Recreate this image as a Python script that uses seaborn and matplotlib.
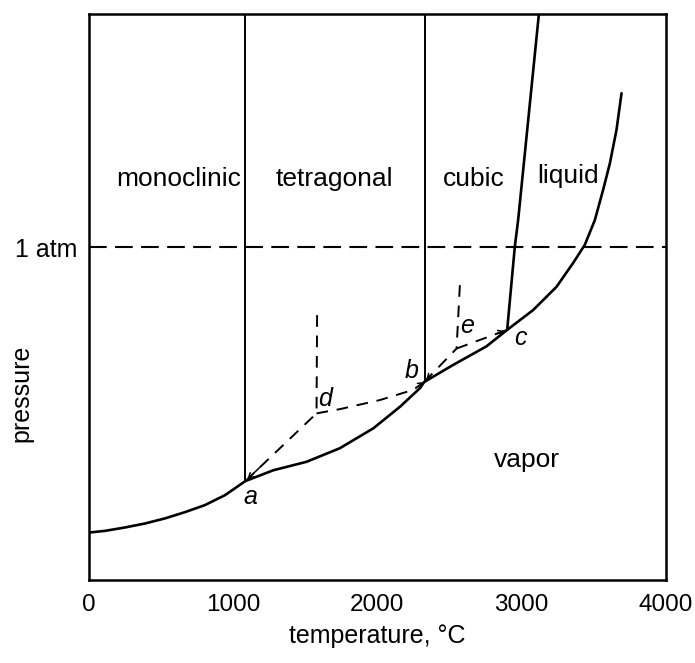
import matplotlib
matplotlib.use("Agg")
import matplotlib.pyplot as plt
import seaborn as sns

# pressure is in arbitrary units (0 = bottom of axes, 100 = top)
atm = 58.8

# solid sublimation / vaporisation curve
vap_T = [0, 111, 250, 388, 527, 665, 804, 943, 1085, 1278, 1509, 1740, 1971, 2156, 2295, 2325,
         2525, 2757, 2900, 3080, 3242, 3357, 3438, 3508, 3565, 3612, 3658, 3693]
vap_P = [8.4, 8.7, 9.3, 10.0, 10.9, 12.0, 13.25, 15.0, 17.5, 19.4, 20.9, 23.3, 26.8, 30.6, 33.9, 35.0,
         38.0, 41.3, 44.2, 47.7, 51.8, 56.0, 59.2, 63.6, 68.9, 73.6, 79.5, 86.0]

# melting curve from c to the top
melt_T = [2900, 2953, 2976, 3120]
melt_P = [44.2, 58.9, 63.6, 100]

# solid-solid boundaries (vertical)
mono_tet_T = 1085
tet_cub_T = 2328
a_P = 17.5
b_P = 35.0

# metastable (dashed) lines
ad_T = [1085, 1578]
ad_P = [17.5, 29.45]
db_T = [1578, 1740, 2017, 2248, 2325]
db_P = [29.45, 30.2, 31.8, 33.6, 35.0]
d_up_T = [1582, 1578]
d_up_P = [46.8, 29.45]
be_T = [2325, 2549]
be_P = [35.0, 40.9]
ec_T = [2549, 2900]
ec_P = [40.9, 44.2]
e_up_T = [2572, 2549]
e_up_P = [52.1, 40.9]

regions = ["monoclinic", "tetragonal", "cubic", "liquid", "vapor"]
region_T = [620, 1700, 2665, 3325, 3035]
region_P = [70.8, 70.8, 70.8, 71.3, 21.3]
points = ["a", "b", "c", "d", "e"]
point_T = [1120, 2235, 2990, 1640, 2620]
point_P = [14.6, 37.0, 42.8, 32.0, 44.8]

sns.set_style("white")
plt.rcParams['font.family'] = ['Liberation Sans', 'DejaVu Sans']
plt.rcParams['text.color'] = 'black'
plt.rcParams['xtick.color'] = 'black'
plt.rcParams['ytick.color'] = 'black'
plt.rcParams['axes.labelcolor'] = 'black'

fig = plt.figure(figsize=(6.95, 6.63), dpi=100)
ax = fig.add_axes([0.128, 0.125, 0.83, 0.854])

k = dict(color="black", sort=False, estimator=None, legend=False, ax=ax)
sns.lineplot(x=vap_T, y=vap_P, linewidth=1.9, **k)
sns.lineplot(x=melt_T, y=melt_P, linewidth=1.9, **k)
sns.lineplot(x=[mono_tet_T, mono_tet_T], y=[a_P, 100], linewidth=1.4, **k)
sns.lineplot(x=[tet_cub_T, tet_cub_T], y=[b_P, 100], linewidth=1.4, **k)

atm_line = ax.axhline(atm, color="black", linewidth=1.5)
atm_line.set_dashes((8.5, 4))

for xs, ys in [(ad_T, ad_P), (db_T, db_P), (d_up_T, d_up_P), (be_T, be_P), (ec_T, ec_P), (e_up_T, e_up_P)]:
    l = ax.plot(xs, ys, color="black", linewidth=1.4)[0]
    l.set_dashes((6, 4.5))

# small arrowheads where the metastable lines end on the triple points
arrow = dict(arrowstyle="->,head_length=0.35,head_width=0.2", color="black", lw=1.1)
for (x0, y0), (x1, y1) in [((ad_T[1], ad_P[1]), (ad_T[0], ad_P[0])),
                           ((db_T[-2], db_P[-2]), (db_T[-1], db_P[-1])),
                           ((be_T[1], be_P[1]), (be_T[0], be_P[0])),
                           ((ec_T[0], ec_P[0]), (ec_T[1], ec_P[1]))]:
    xs = x1 - (x1 - x0) * 0.25
    ys = y1 - (y1 - y0) * 0.25
    ax.annotate("", xy=(x1, y1), xytext=(xs, ys), arrowprops=arrow)

for name, x, y in zip(regions, region_T, region_P):
    ax.text(x, y, name, fontsize=19, ha="center", va="center")
for name, x, y in zip(points, point_T, point_P):
    ax.text(x, y, name, fontsize=18, style="italic", ha="center", va="center")

ax.set_xlim(0, 4000)
ax.set_ylim(0, 100)
ax.set_xticks([0, 1000, 2000, 3000, 4000])
ax.set_xticklabels(["0", "1000", "2000", "3000", "4000"], fontsize=17.5)
ax.tick_params(axis="x", direction="in", length=12, width=1.5, pad=10)
ax.set_yticks([atm])
ax.set_yticklabels(["1 atm"], fontsize=18)
ax.tick_params(axis="y", direction="out", length=4, width=1.5, pad=4)
for s in ax.spines.values():
    s.set_color("black")
    s.set_linewidth(1.8)

ax.set_xlabel("temperature, °C", fontsize=18, labelpad=6)
ax.set_ylabel("pressure", fontsize=18)
ax.yaxis.set_label_coords(-0.097, 0.33)

fig.savefig("out.png", dpi=100, facecolor="white")
